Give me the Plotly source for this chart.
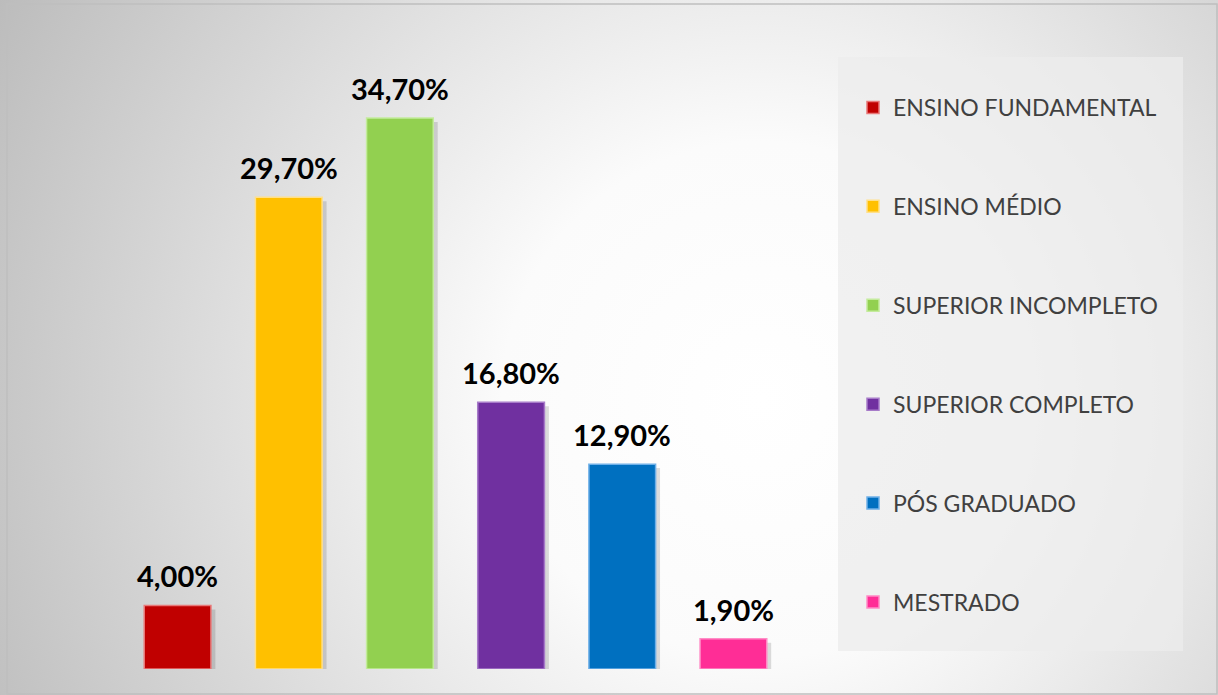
import base64
import plotly.graph_objects as go

categories = ["ENSINO FUNDAMENTAL", "ENSINO MÉDIO", "SUPERIOR INCOMPLETO",
              "SUPERIOR COMPLETO", "PÓS GRADUADO", "MESTRADO"]
values = [4.0, 29.7, 34.7, 16.8, 12.9, 1.9]
colors = ["#C00000", "#FFC000", "#92D050", "#7030A0", "#0070C0", "#FF2D96"]
edges = ["#E87878", "#FFE08A", "#C4EB9C", "#A77BC9", "#6FB0E8", "#FF8CC6"]

W, H = 1218, 695
L, R, T, B = 122, 429, 40, 26
pw, ph = W - L - R, H - T - B


def px(x):
    return (x - L) / pw


def py(y):
    return (H - B - y) / ph


bg_svg = f"""<svg xmlns='http://www.w3.org/2000/svg' width='{W}' height='{H}'>
<defs><radialGradient id='g' gradientUnits='userSpaceOnUse' cx='760' cy='400' r='860'>
<stop offset='0' stop-color='#ffffff'/><stop offset='0.3' stop-color='#fbfbfb'/>
<stop offset='1' stop-color='#bcbcbc'/></radialGradient></defs>
<rect width='{W}' height='{H}' fill='url(#g)'/></svg>"""
bg_uri = "data:image/svg+xml;base64," + base64.b64encode(bg_svg.encode()).decode()

fig = go.Figure()

# soft shadow behind bars
fig.add_trace(go.Bar(
    x=categories, y=values, base=-0.25, width=0.6, offset=-0.26,
    marker=dict(color="rgba(0,0,0,0.13)", line=dict(width=0)),
    showlegend=False, hoverinfo="skip",
))

for cat, val, col, edge in zip(categories, values, colors, edges):
    fig.add_trace(go.Bar(
        x=[cat], y=[val], name=cat, width=0.6, legendgroup=cat,
        marker=dict(color=col, line=dict(color=edge, width=1.5)),
    ))

labels = [dict(x=cat, y=val, text=f"{val:.2f}%".replace(".", ","),
               xref="x", yref="y", yanchor="bottom", yshift=10, showarrow=False,
               font=dict(family="Lato", size=29, color="#000000", weight="bold"))
          for cat, val in zip(categories, values)]

fig.update_layout(
    width=W, height=H,
    margin=dict(l=L, r=R, t=T, b=B),
    paper_bgcolor="#ffffff", plot_bgcolor="rgba(0,0,0,0)",
    barmode="overlay",
    xaxis=dict(visible=False, range=[-0.5, 5.5]),
    yaxis=dict(visible=False, range=[0, ph / 15.88]),
    font=dict(family="Lato", color="#404040"),
    annotations=labels,
    legend=dict(
        x=px(853), y=py(86), xanchor="left", yanchor="top",
        bgcolor="rgba(0,0,0,0)", font=dict(size=23, color="#404040"),
        tracegroupgap=66, traceorder="grouped",
    ),
    images=[dict(
        source=bg_uri, xref="paper", yref="paper", x=px(0), y=py(0),
        sizex=W / pw, sizey=H / ph, sizing="stretch", layer="below",
        xanchor="left", yanchor="top",
    )],
    shapes=[
        dict(type="rect", xref="paper", yref="paper", layer="below",
             x0=px(838), x1=px(1183), y0=py(651), y1=py(57),
             fillcolor="rgba(236,236,236,0.75)", line=dict(width=0)),
        dict(type="rect", xref="paper", yref="paper", layer="above",
             x0=px(7), x1=px(1217), y0=py(694), y1=py(4),
             line=dict(color="#bfbfbf", width=1.5)),
    ],
)

fig.write_html("out.html", config={"displayModeBar": False},
               post_script="document.body.style.margin='0';")
